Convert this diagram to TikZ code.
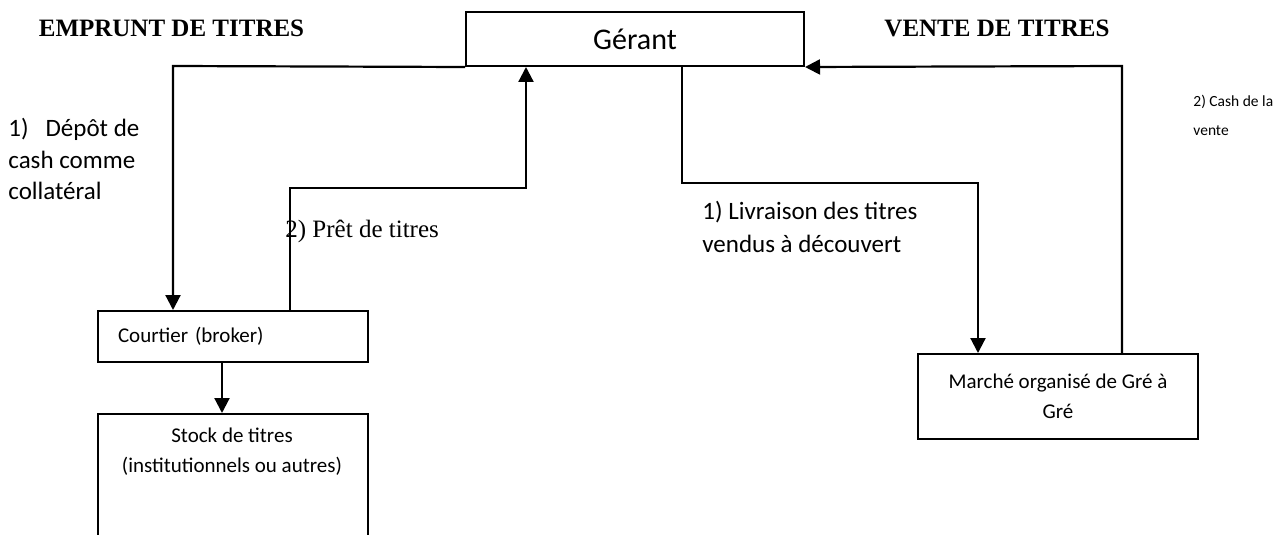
\documentclass[tikz,border=0pt]{standalone}
\usepackage{fontspec}
\setmainfont{Carlito}
\newfontfamily\serifhead{Liberation Serif}
\usetikzlibrary{arrows.meta, positioning}

\begin{document}
\begin{tikzpicture}[x=0.5pt, y=-0.5pt, >={Triangle[length=7.5pt, width=7.5pt]},
  box/.style={
  % The shape:
  rectangle,
  % The border
  line width=1pt, draw=black,
      inner sep=0pt,
      align=center},
  link/.style={line width=1.1pt, ->},
  lbl/.style={inner sep=0pt, align=left, anchor=west}]
  \useasboundingbox (0,0) rectangle (1274,535);

  % The boxes
  \node [box, minimum width=169pt, minimum height=27pt, font=\fontsize{15}{18}\selectfont] (gerant) at (635,39) {Gérant};
  \node [box, minimum width=135pt, minimum height=25.5pt, text width=115pt, align=left, font=\fontsize{10.5}{15}\selectfont] (courtier) at (233,336.5) {Courtier (broker)};
  \node [box, anchor=north, minimum width=135pt, minimum height=66pt] (stock) at (233,413) {};
  \node [inner sep=0pt, anchor=north, align=center, font=\fontsize{10.5}{15}\selectfont] (stocktext) at (232,428) {Stock de titres\\(institutionnels ou autres)};
  \node [box, minimum width=140pt, minimum height=42.5pt, font=\fontsize{10.5}{15}\selectfont] (marche) at (1058,396.5) {Marché organisé de Gré à\\Gré};

  % The titles and labels
  \node [inner sep=0pt, font=\serifhead\bfseries\fontsize{12.5}{15}\selectfont] (emprunt) at (171.5,28) {EMPRUNT DE TITRES};
  \node [inner sep=0pt, font=\serifhead\bfseries\fontsize{12.5}{15}\selectfont] (vente) at (997,28) {VENTE DE TITRES};
  \node [lbl, font=\fontsize{12.5}{15.6}\selectfont] (depot) at (8,159) {1)\hspace{0.68em}Dépôt de\\cash comme\\collatéral};
  \node [lbl, font=\serifhead\fontsize{12.5}{15}\selectfont] (pret) at (285,231) {2) Prêt de titres};
  \node [lbl, font=\fontsize{12.5}{16.8}\selectfont] (livraison) at (702,227) {1) Livraison des titres\\vendus à découvert};
  \node [lbl, font=\fontsize{7.75}{14.5}\selectfont] (cash) at (1193,115.5) {2) Cash de la\\vente};

  \coordinate (depotbend) at (173,66);
  \coordinate (pretbend) at (290,188);
  \coordinate (livbend) at (682,183);
  \coordinate (livend) at (978,183);
  \coordinate (cashbend) at (1122,66);

  \draw [link] (gerant.south west) -- (depotbend) -- (courtier.north -| depotbend);
  \draw [link] (courtier.north -| pretbend) -- (pretbend) -| ([xshift=30.5pt]gerant.south west);
  \draw [link] ([xshift=-5.5pt]courtier.south) -- ([xshift=-5.5pt]stock.north);
  \draw [link] (gerant.south -| livbend) -- (livbend) -- (livend) -- (marche.north -| livend);
  \draw [link] (marche.north -| cashbend) -- (cashbend) -- (gerant.south east);

  \end{tikzpicture}
\end{document}
